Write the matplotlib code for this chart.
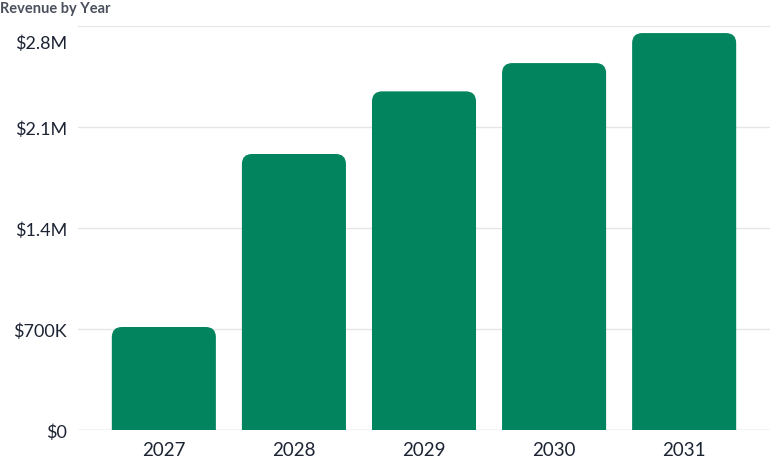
import numpy as np
import matplotlib.pyplot as plt
from matplotlib.patches import FancyBboxPatch
from matplotlib.ticker import FixedLocator
from matplotlib.transforms import ScaledTranslation

years = ['2027', '2028', '2029', '2030', '2031']
revenue = [714000, 1913000, 2347000, 2543000, 2751000]
yticks = [0, 700000, 1400000, 2100000, 2800000]
ytick_labels = ['$0', '$700K', '$1.4M', '$2.1M', '$2.8M']

plt.rcParams['font.family'] = ['Lato', 'DejaVu Sans']

fig = plt.figure(figsize=(7.7, 4.77), dpi=100)
ax = fig.add_axes([0.1013, 0.0964, 0.8987, 0.847])

bar_color = '#02855f'
text_color = '#1c2333'
x = np.arange(len(years))
bars = ax.bar(x, revenue, width=0.8, color=bar_color)

ax.set_xlim(-0.66, 4.66)
ax.set_ylim(0, 2800000)

# rounded tops: swap each bar for a rounded box that dips below the axis
ry = 70000
rx = 0.078
for b in bars:
    bx, by = b.get_x(), b.get_y()
    bw, bh = b.get_width(), b.get_height()
    b.set_visible(False)
    p = FancyBboxPatch((bx, by - ry), bw, bh + ry,
                       boxstyle=f'round,pad=0,rounding_size={rx}',
                       mutation_aspect=ry / rx,
                       facecolor=bar_color, edgecolor='none', zorder=2)
    ax.add_patch(p)

ax.yaxis.set_major_locator(FixedLocator(yticks))
# top label is drawn separately, pushed below its gridline
ax.set_yticklabels(ytick_labels[:-1] + [''])
ax.set_xticks(x)
ax.set_xticklabels(years)

ax.tick_params(axis='y', length=0, pad=8, labelsize=13, labelcolor=text_color)
ax.tick_params(axis='x', length=0, pad=8, labelsize=13.5, labelcolor=text_color)

off = ScaledTranslation(-8 / 72, -6 / 72, fig.dpi_scale_trans)
ax.text(0, yticks[-1], ytick_labels[-1], ha='right', va='top',
        fontsize=13, color=text_color,
        transform=ax.get_yaxis_transform() + off)

ax.grid(axis='y', color='#e6e6e6', linewidth=1, zorder=0)
ax.set_axisbelow(True)
for s in ax.spines.values():
    s.set_visible(False)
ax.axhline(0, color='#d9d9d9', linewidth=1, zorder=1)

fig.text(0.0, 0.996, 'Revenue by Year', ha='left', va='top',
         fontsize=10.5, fontweight='bold', color='#4a4f5c')

fig.savefig('out.png', dpi=100)
